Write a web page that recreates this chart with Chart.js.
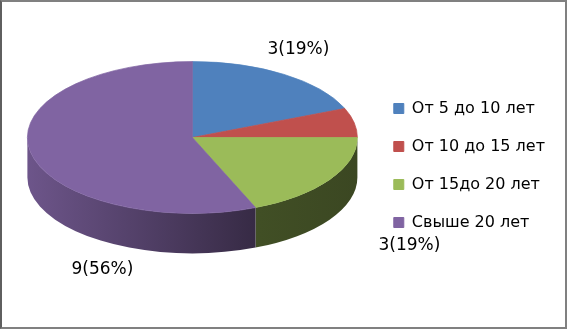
<!DOCTYPE html>
<html>
<head>
<meta charset="utf-8">
<script src="https://cdn.jsdelivr.net/npm/chart.js@4"></script>
<style>
  html, body { margin: 0; padding: 0; background: #fff; }
  #frame {
    width: 567px; height: 329px; box-sizing: border-box;
    border: 2px solid #808080; border-left-color: #5f5f5f;
  }
  canvas { display: block; }
</style>
</head>
<body>
<div id="frame"><canvas id="chart" width="563" height="325"></canvas></div>
<script>
const categories = ["От 5 до 10 лет", "От 10 до 15 лет", "От 15до 20 лет", "Свыше 20 лет"];
const counts = [3, 1, 3, 9];
const sliceColors = ["#4f81bd", "#c0504d", "#9bbb59", "#8064a2"];

// look of the flattened 3d pie
const view = { tilt: 0.46, depth: 40, lift: 28 };
// where Excel put the data labels, relative to the pie centre (null = hidden)
const labelOffsets = [[106, -88], null, [217, 108], [-90, 132]];

const total = counts.reduce((a, b) => a + b, 0);

function shade(hex, f) {
  const n = parseInt(hex.slice(1), 16);
  const r = Math.round(((n >> 16) & 255) * f);
  const g = Math.round(((n >> 8) & 255) * f);
  const b = Math.round((n & 255) * f);
  return `rgb(${r},${g},${b})`;
}

let tilted = false;

const pie3d = {
  id: "pie3d",
  beforeDatasetsDraw(chart) {
    const ctx = chart.ctx;
    const arcs = chart.getDatasetMeta(0).data;
    if (!arcs.length) return;
    const { x, y, outerRadius: r } = arcs[0];
    const cy = y - view.lift;
    const ry = r * view.tilt;

    // side walls of the slices facing the viewer
    arcs.forEach((arc, i) => {
      const a1 = Math.max(arc.startAngle, 0);
      const a2 = Math.min(arc.endAngle, Math.PI);
      if (a2 <= a1) return;
      const g = ctx.createLinearGradient(x - r, 0, x + r, 0);
      g.addColorStop(0, shade(sliceColors[i], 0.85));
      g.addColorStop(0.7, shade(sliceColors[i], 0.42));
      g.addColorStop(1, shade(sliceColors[i], 0.38));
      ctx.beginPath();
      ctx.ellipse(x, cy, r, ry, 0, a1, a2);
      ctx.ellipse(x, cy + view.depth, r, ry, 0, a2, a1, true);
      ctx.closePath();
      ctx.fillStyle = g;
      ctx.fill();
    });

    // squash the top face
    ctx.save();
    ctx.translate(x, cy);
    ctx.scale(1, view.tilt);
    ctx.translate(-x, -y);
    tilted = true;
  },
  afterDatasetsDraw(chart) {
    const ctx = chart.ctx;
    if (tilted) { ctx.restore(); tilted = false; }
    const arcs = chart.getDatasetMeta(0).data;
    if (!arcs.length) return;
    const { x, y } = arcs[0];
    const cy = y - view.lift;
    ctx.save();
    ctx.font = "17px 'DejaVu Sans'";
    ctx.fillStyle = "#000";
    ctx.textAlign = "center";
    ctx.textBaseline = "middle";
    counts.forEach((v, i) => {
      const off = labelOffsets[i];
      if (!off) return;
      const pct = Math.round(v / total * 100);
      ctx.fillText(`${v}(${pct}%)`, x + off[0], cy + off[1]);
    });
    ctx.restore();
  }
};

new Chart(document.getElementById("chart"), {
  type: "pie",
  data: {
    labels: categories,
    datasets: [{
      data: counts,
      backgroundColor: sliceColors,
      borderColor: sliceColors,
      borderWidth: 1,
      radius: 165
    }]
  },
  options: {
    responsive: false,
    animation: false,
    layout: { padding: { left: 11, right: 10, top: 2, bottom: 0 } },
    plugins: {
      tooltip: { enabled: false },
      legend: {
        position: "right",
        labels: {
          font: { family: "'DejaVu Sans'", size: 16 },
          color: "#000",
          boxWidth: 10,
          boxHeight: 10,
          padding: 22
        }
      }
    }
  },
  plugins: [pie3d]
});
</script>
</body>
</html>
